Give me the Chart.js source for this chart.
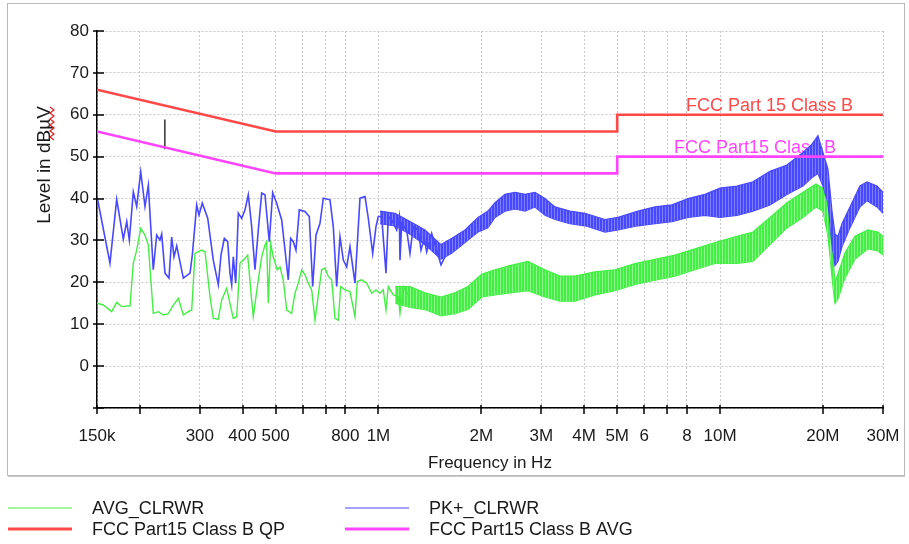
<!DOCTYPE html>
<html>
<head>
<meta charset="utf-8">
<script src="https://cdn.jsdelivr.net/npm/chart.js@4.4.1/dist/chart.umd.min.js"></script>
<style>
  html, body { margin: 0; padding: 0; background: #fff; }
  canvas { display: block; }
</style>
</head>
<body>
<canvas id="emcChart" width="909" height="544"></canvas>
<script>
// frequencies in MHz, levels in dBuV
const xTickValues = [0.15, 0.2, 0.3, 0.4, 0.5, 0.6, 0.7, 0.8, 1, 2, 3, 4, 5, 6, 7, 8, 10, 20, 30];
const xTickLabels = ['150k', '', '300', '400', '500', '', '', '800', '1M', '2M', '3M', '4M', '5M', '6', '', '8', '10M', '20M', '30M'];

const qpLimitFreq = [0.15, 0.5, 5, 5, 30];
const qpLimitLevel = [66, 56, 56, 60, 60];
const avgLimitFreq = [0.15, 0.5, 5, 5, 30];
const avgLimitLevel = [56, 46, 46, 50, 50];

const markerFreq = [0.237, 0.237];
const markerLevel = [58.9, 51.8];

// PK+ trace, low band
const pkFreq = [0.150, 0.1637, 0.1713, 0.1791, 0.1833, 0.1865, 0.1916, 0.1960, 0.2014, 0.2073,
  0.2120, 0.2192, 0.2243, 0.2293, 0.2320, 0.2372, 0.2437, 0.2482, 0.2521, 0.2567,
  0.2684, 0.2808, 0.2852, 0.2937, 0.2983, 0.3050, 0.3164, 0.3285, 0.3398, 0.3460,
  0.3538, 0.3620, 0.3676, 0.3719, 0.3759, 0.3821, 0.3888, 0.3978, 0.4068, 0.4159,
  0.4255, 0.4351, 0.4449, 0.4552, 0.4654, 0.4791, 0.4902, 0.5036, 0.5209, 0.5446,
  0.5535, 0.5633, 0.5736, 0.5866, 0.6095, 0.6275, 0.6420, 0.6565, 0.6744, 0.6896,
  0.7214, 0.7376, 0.7547, 0.7717, 0.7891, 0.8073, 0.8255, 0.8538, 0.8831, 0.9133,
  0.9339, 0.9620, 0.9836, 0.9990, 1.0221, 1.0522, 1.0687, 1.0934, 1.1309, 1.1509,
  1.1564, 1.1697, 1.2098, 1.2370, 1.2648, 1.3082, 1.3322, 1.3622, 1.3844, 1.4319,
  1.4809, 1.5244, 1.5661];
const pkLevel = [40.5, 24.6, 39.8, 30.3, 34.5, 30.1, 41.6, 38.1, 46.4, 38.1,
  43.2, 23.0, 31.3, 30.1, 31.5, 22.2, 21.0, 30.8, 26.1, 28.7,
  21.0, 22.2, 26.5, 38.5, 36.1, 38.9, 35.3, 25.3, 19.4, 26.5,
  30.5, 29.7, 22.2, 19.4, 26.1, 19.8, 36.5, 35.3, 37.3, 40.9,
  33.3, 23.0, 32.5, 41.3, 40.9, 29.7, 41.4, 38.9, 34.9, 20.6,
  30.5, 29.7, 27.7, 37.3, 36.9, 35.7, 19.0, 31.3, 34.1, 40.1,
  39.7, 33.3, 19.0, 30.9, 25.3, 23.7, 28.5, 19.8, 40.1, 40.5,
  35.3, 26.9, 33.3, 35.7, 35.7, 22.2, 35.7, 34.9, 32.5, 35.7,
  25.3, 34.1, 32.5, 26.9, 33.3, 32.5, 27.7, 30.5, 27.3, 31.7,
  27.7, 24.2, 26.1];

// PK+ trace, dense part drawn as upper/lower envelope
const pkBandFreq = [1.0105, 1.1180, 1.2370, 1.3686, 1.5244, 1.6416, 1.7922, 1.9564, 2.0926, 2.1937,
  2.3469, 2.5105, 2.6850, 2.8721, 3.0720, 3.2864, 3.6359, 4.0240, 4.6052, 5.0271,
  5.7527, 6.4514, 7.2350, 8.058, 9.036, 10.0, 11.21, 12.49, 14.00, 15.70,
  17.49, 18.59, 19.35, 20.01, 20.70, 21.27, 21.70, 22.14, 22.75, 24.01,
  25.68, 26.93, 28.80, 30.0];
const pkBandHigh = [37, 36.5, 34.5, 32.5, 29, 30.5, 32.5, 35.5, 37, 39,
  41, 41.5, 41, 41.5, 40, 38, 37, 36.5, 35, 35.5,
  37, 38, 38.5, 40, 41, 42.5, 43, 44, 46.5, 48,
  51, 53, 55, 51, 47, 37, 31.5, 31, 34, 38,
  43, 44, 43, 41.5];
const pkBandLow = [34, 33.5, 31.5, 29, 25.5, 27, 29.5, 32, 33, 35.5,
  37, 37.5, 37, 38, 36, 35, 34, 33.5, 32, 32.5,
  33.5, 34, 34.5, 35.5, 36, 35.5, 36, 37, 38.5, 41,
  43, 45, 46, 43, 39, 29, 24, 25, 28.5, 33,
  38, 39.5, 38, 36.5];

// AVG trace, low band
const avgFreq = [0.150, 0.1565, 0.1656, 0.1713, 0.1772, 0.1874, 0.1916, 0.1960, 0.2014, 0.2073,
  0.2120, 0.2192, 0.2267, 0.2345, 0.2426, 0.2492, 0.2595, 0.2684, 0.2776, 0.2840,
  0.2904, 0.3038, 0.3107, 0.3213, 0.3285, 0.3398, 0.3476, 0.3596, 0.3676, 0.3759,
  0.3846, 0.3933, 0.4021, 0.4142, 0.4255, 0.4301, 0.4449, 0.4552, 0.4654, 0.4708,
  0.4759, 0.4836, 0.4922, 0.5057, 0.5150, 0.5265, 0.5388, 0.5572, 0.5698, 0.5826,
  0.5961, 0.6095, 0.6233, 0.6377, 0.6521, 0.6667, 0.6822, 0.6975, 0.7132, 0.7297,
  0.7461, 0.7629, 0.7754, 0.7982, 0.8255, 0.8538, 0.8672, 0.8933, 0.9239, 0.9555,
  0.9836, 1.0105, 1.0332, 1.0522, 1.0687, 1.1053, 1.1432, 1.1564, 1.1824, 1.2229];
const avgLevel = [15.0, 14.6, 13.0, 15.2, 14.2, 14.4, 24.6, 27.7, 32.9, 31.3,
  28.9, 12.6, 13.0, 12.2, 12.5, 14.2, 16.2, 12.2, 13.0, 13.4,
  26.9, 27.7, 27.3, 16.6, 11.4, 11.2, 15.8, 18.6, 15.0, 11.4,
  11.8, 24.6, 25.3, 26.5, 15.8, 11.8, 20.6, 26.1, 28.9, 29.7,
  15.0, 29.3, 26.1, 23.0, 23.7, 20.6, 13.4, 12.6, 17.4, 19.8,
  23.0, 21.8, 19.8, 18.2, 11.0, 17.0, 23.0, 23.4, 21.4, 20.6,
  11.4, 11.0, 19.0, 18.2, 17.8, 11.8, 20.2, 20.6, 19.8, 17.4,
  18.2, 17.4, 18.2, 13.4, 19.0, 17.0, 16.6, 12.6, 19.0, 17.0];

// AVG trace, dense part
const avgBandFreq = [1.1180, 1.2370, 1.3686, 1.5244, 1.6752, 1.8288, 2.0099, 2.1937, 2.4273, 2.7399,
  3.0720, 3.3990, 3.7605, 4.305, 4.9265, 5.6375, 6.4514, 7.3827, 8.448, 9.666,
  11.21, 12.49, 14.00, 15.70, 17.49, 19.09, 20.01, 20.70, 21.41, 21.70,
  22.14, 23.21, 24.83, 27.11, 28.99, 30.0];
const avgBandHigh = [19, 19, 17.5, 16.5, 17.5, 19, 22, 23, 24, 25,
  23, 21.5, 21.5, 22.5, 23, 24.5, 25.5, 26.5, 28, 29.5,
  31, 32, 35.5, 39, 41.5, 43.5, 42.5, 38, 26, 20,
  22, 27, 31, 32.5, 32, 31];
const avgBandLow = [15, 14, 13.5, 12, 12.5, 13.5, 16.5, 17, 17.5, 18,
  16.5, 15.5, 15.5, 17, 18, 19.5, 20.5, 21.5, 23, 24.5,
  24.5, 25, 29, 33, 35.5, 38, 37, 31, 19, 15,
  16, 21, 25.5, 28, 27.5, 26.5];

const GREEN = 'rgb(68,238,68)';
const BLUE = 'rgb(72,72,255)';
const RED = 'rgb(255,72,72)';
const MAGENTA = 'rgb(255,68,255)';
const FONT = '"Liberation Sans", Arial, sans-serif';

const pts = (xs, ys) => xs.map((x, i) => ({ x, y: ys[i] }));

// vertical-stripe fill so the dense sweep bands get some texture
function stripes(main, light) {
  const c = document.createElement('canvas');
  c.width = 3;
  c.height = 1;
  const g = c.getContext('2d');
  g.fillStyle = main;
  g.fillRect(0, 0, 2, 1);
  g.fillStyle = light;
  g.fillRect(2, 0, 1, 1);
  return g.createPattern(c, 'repeat');
}

const legendItems = [
  { label: 'AVG_CLRWR', color: GREEN, width: 1.2, col: 0, row: 0 },
  { label: 'PK+_CLRWR', color: BLUE, width: 1.2, col: 1, row: 0 },
  { label: 'FCC Part15 Class B QP', color: RED, width: 3, col: 0, row: 1 },
  { label: 'FCC Part15 Class B AVG', color: MAGENTA, width: 3, col: 1, row: 1 },
];

const limitLabels = {
  id: 'limitLabels',
  beforeDatasetsDraw(chart) {
    const { ctx, scales: { x, y } } = chart;
    ctx.save();
    ctx.font = `18px ${FONT}`;
    ctx.textBaseline = 'alphabetic';
    ctx.fillStyle = RED;
    ctx.fillText('FCC Part 15 Class B', x.getPixelForValue(7.95), y.getPixelForValue(60) - 4);
    ctx.fillStyle = MAGENTA;
    ctx.fillText('FCC Part15 Class B', x.getPixelForValue(7.33), y.getPixelForValue(50) - 4);
    ctx.restore();
  },
};

const decorations = {
  id: 'decorations',
  afterDraw(chart) {
    const { ctx, scales: { x, y } } = chart;
    ctx.save();

    // tick marks crossing the axes
    ctx.strokeStyle = '#000';
    ctx.lineWidth = 1.5;
    ctx.beginPath();
    y.ticks.forEach((t) => {
      const py = Math.round(y.getPixelForValue(t.value));
      ctx.moveTo(x.left - 4, py);
      ctx.lineTo(x.left + 7, py);
    });
    x.ticks.forEach((t) => {
      const px = Math.round(x.getPixelForValue(t.value));
      ctx.moveTo(px, y.bottom - 3);
      ctx.lineTo(px, y.bottom + 6);
    });
    ctx.stroke();

    // frame
    ctx.strokeStyle = '#b8b8b8';
    ctx.lineWidth = 1;
    ctx.strokeRect(7.5, 3.5, 897, 472);
    ctx.strokeStyle = '#c8c8c8';
    ctx.beginPath();
    ctx.moveTo(8, 476.5);
    ctx.lineTo(905, 476.5);
    ctx.stroke();

    // axis titles
    ctx.fillStyle = '#1a1a1a';
    ctx.font = `17px ${FONT}`;
    ctx.textAlign = 'center';
    ctx.textBaseline = 'middle';
    ctx.fillText('Frequency in Hz', (x.left + x.right) / 2, 463);
    ctx.save();
    ctx.translate(45, 165);
    ctx.rotate(-Math.PI / 2);
    ctx.font = `19px ${FONT}`;
    ctx.fillText('Level in dBµV', 0, 0);
    ctx.restore();

    // spell-check squiggle under dBµV
    ctx.strokeStyle = '#e02020';
    ctx.lineWidth = 1.2;
    ctx.beginPath();
    for (let py = 107, k = 0; py <= 140; py += 3, k++) {
      const px = k % 2 ? 54 : 50;
      if (k === 0) ctx.moveTo(px, py); else ctx.lineTo(px, py);
    }
    ctx.stroke();

    // legend
    ctx.textAlign = 'left';
    ctx.font = `18px ${FONT}`;
    legendItems.forEach((item) => {
      const lx = item.col ? 345 : 8;
      const ly = item.row ? 529 : 508;
      ctx.strokeStyle = item.color;
      ctx.lineWidth = item.width;
      ctx.beginPath();
      ctx.moveTo(lx, ly);
      ctx.lineTo(lx + 64, ly);
      ctx.stroke();
      ctx.fillStyle = '#1a1a1a';
      ctx.fillText(item.label, lx + 84, ly + 1);
    });
    ctx.restore();
  },
};

new Chart(document.getElementById('emcChart'), {
  type: 'line',
  data: {
    datasets: [
      { label: 'FCC Part15 Class B QP', data: pts(qpLimitFreq, qpLimitLevel), borderColor: RED, borderWidth: 2.6 },
      { label: 'FCC Part15 Class B AVG', data: pts(avgLimitFreq, avgLimitLevel), borderColor: MAGENTA, borderWidth: 2.6 },
      { label: 'marker', data: pts(markerFreq, markerLevel), borderColor: '#333', borderWidth: 1.5 },
      { label: 'PK+_CLRWR', data: pts(pkFreq, pkLevel), borderColor: BLUE, borderWidth: 1.6 },
      { label: 'PK+ high', data: pts(pkBandFreq, pkBandHigh), borderColor: BLUE, borderWidth: 1.2, fill: '+1', backgroundColor: stripes('rgb(72,72,255)', 'rgb(125,125,255)') },
      { label: 'PK+ low', data: pts(pkBandFreq, pkBandLow), borderColor: BLUE, borderWidth: 1.2 },
      { label: 'AVG_CLRWR', data: pts(avgFreq, avgLevel), borderColor: GREEN, borderWidth: 1.4 },
      { label: 'AVG high', data: pts(avgBandFreq, avgBandHigh), borderColor: GREEN, borderWidth: 1.2, fill: '+1', backgroundColor: stripes('rgb(68,238,68)', 'rgb(140,245,140)') },
      { label: 'AVG low', data: pts(avgBandFreq, avgBandLow), borderColor: GREEN, borderWidth: 1.2 },
    ],
  },
  options: {
    responsive: false,
    animation: false,
    parsing: false,
    normalized: true,
    layout: { padding: { left: 0, top: 31, right: 26, bottom: 86 } },
    elements: {
      point: { radius: 0, hoverRadius: 0 },
      line: { tension: 0, fill: false },
    },
    plugins: { legend: { display: false }, tooltip: { enabled: false } },
    scales: {
      x: {
        type: 'logarithmic',
        min: 0.15,
        max: 30,
        afterBuildTicks: (scale) => { scale.ticks = xTickValues.map((v) => ({ value: v })); },
        afterFit: (scale) => {
          scale.height = 50;
          scale.paddingLeft = 0;
          scale.paddingRight = 0;
        },
        ticks: {
          autoSkip: false,
          maxRotation: 0,
          padding: 18,
          color: '#1a1a1a',
          font: { family: FONT, size: 17 },
          callback: (value, index) => xTickLabels[index],
        },
        grid: { color: '#c8c8c8', lineWidth: 1, drawTicks: false },
        border: { display: true, color: '#000', width: 1.5, dash: [2, 2] },
      },
      y: {
        type: 'linear',
        min: -10,
        max: 80,
        afterFit: (scale) => {
          scale.width = 97;
          scale.paddingTop = 0;
          scale.paddingBottom = 0;
        },
        ticks: {
          stepSize: 5,
          padding: 8,
          color: '#1a1a1a',
          font: { family: FONT, size: 17 },
          callback: (value) => (value % 10 === 0 && value >= 0 ? String(value) : ''),
        },
        grid: { color: '#c8c8c8', lineWidth: 1, drawTicks: false },
        border: { display: true, color: '#000', width: 1.5, dash: [2, 2] },
      },
    },
  },
  plugins: [limitLabels, decorations],
});
</script>
</body>
</html>
